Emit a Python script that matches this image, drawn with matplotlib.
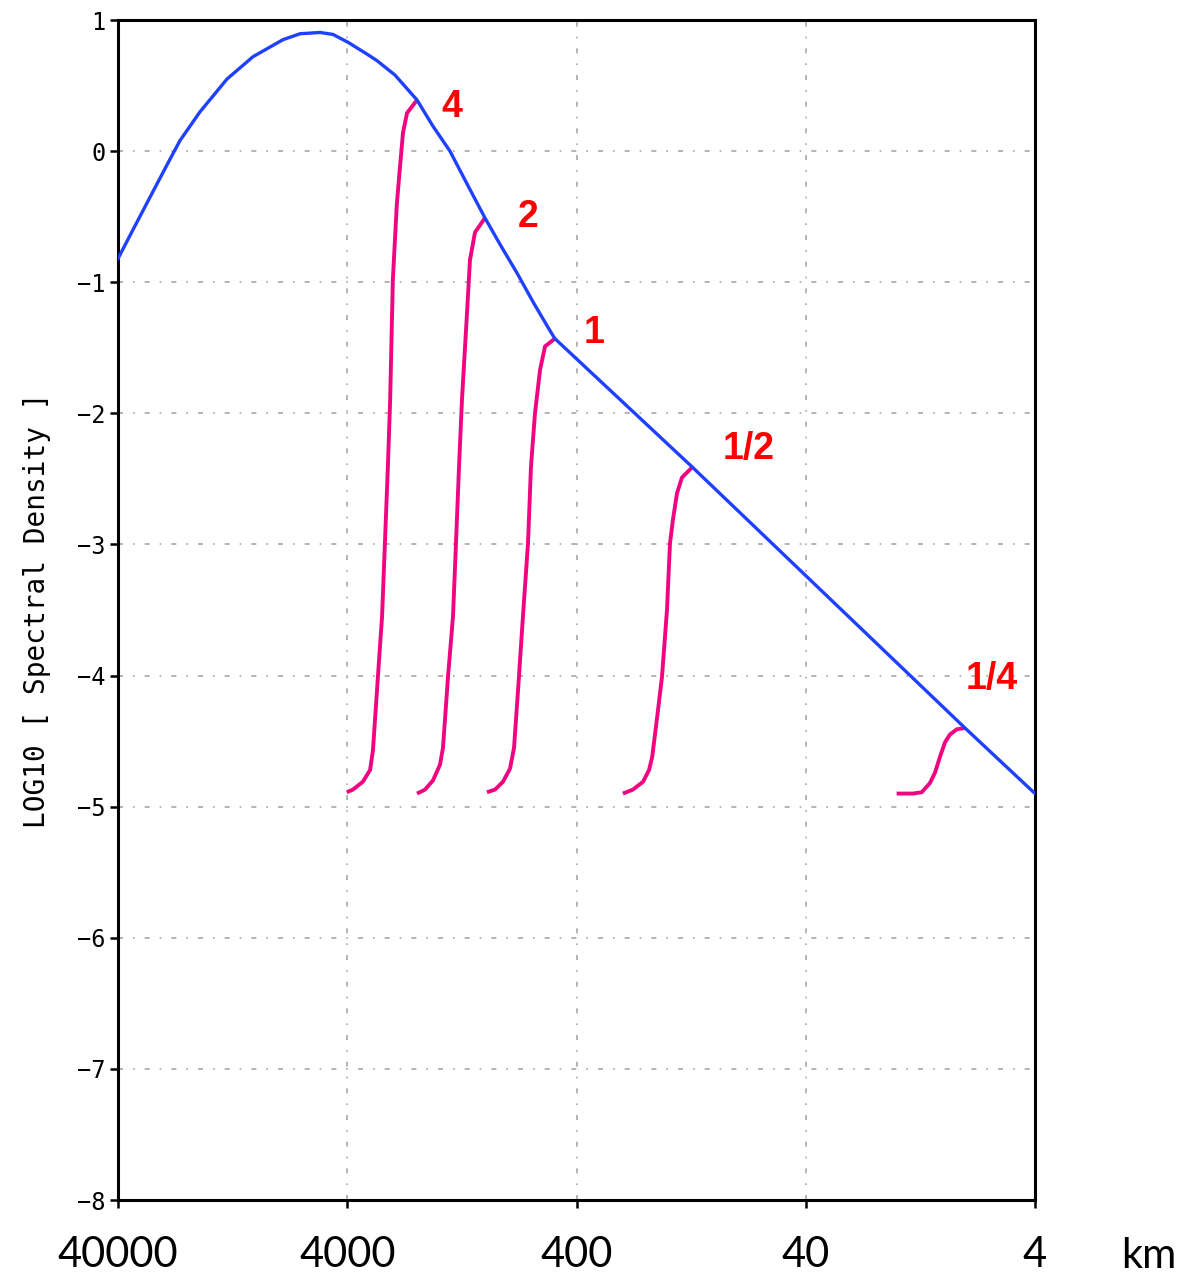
import numpy as np
import matplotlib
matplotlib.use('Agg')
import matplotlib.pyplot as plt
from matplotlib.ticker import FixedLocator, NullFormatter, MultipleLocator

# full spectrum: wavelength (km) vs LOG10 spectral density
total_km = [40000, 34420, 27040, 23700, 21470, 17550, 13380, 10310, 7627, 6430, 5260,
            4617, 3970, 3281, 2967, 2476, 1985, 1691, 1426, 1201, 1003, 863, 727, 619,
            522, 497, 125, 8.08, 4]
total_sd = [-0.82, -0.60, -0.25, -0.06, 0.08, 0.30, 0.55, 0.72, 0.85, 0.895, 0.905,
            0.89, 0.83, 0.74, 0.69, 0.58, 0.39, 0.19, 0.0, -0.25, -0.51, -0.71, -0.93, -1.15,
            -1.37, -1.43, -2.41, -4.40, -4.90]

# truncated spectra (magenta)
f4_km = [4020, 3780, 3420, 3180, 3090, 2940, 2820, 2740, 2660, 2600, 2530, 2430, 2355, 2285, 2195, 1985]
f4_sd = [-4.89, -4.87, -4.81, -4.72, -4.57, -4.01, -3.55, -2.99, -2.41, -1.90, -0.98, -0.40, -0.12, 0.14, 0.29, 0.39]

f2_km = [1985, 1832, 1691, 1576, 1529, 1454, 1383, 1342, 1302, 1264, 1201, 1166, 1109, 1003]
f2_sd = [-4.90, -4.87, -4.80, -4.68, -4.55, -4.01, -3.55, -2.99, -2.41, -1.90, -1.23, -0.83, -0.62, -0.51]

f1_km = [983, 907, 837, 780, 749, 713, 685, 651, 632, 607, 577, 549, 497]
f1_sd = [-4.89, -4.87, -4.81, -4.71, -4.55, -4.01, -3.55, -2.99, -2.41, -2.00, -1.67, -1.49, -1.43]

fh_km = [251, 227, 205, 193, 187, 178, 169.5, 161.2, 156.4, 151.8, 145.8, 138.7, 125]
fh_sd = [-4.90, -4.87, -4.81, -4.72, -4.62, -4.32, -4.01, -3.50, -2.99, -2.81, -2.61, -2.49, -2.41]

fq_km = [16.05, 13.62, 12.48, 11.49, 10.92, 10.39, 9.88, 9.40, 8.78, 8.08]
fq_sd = [-4.90, -4.90, -4.89, -4.82, -4.74, -4.62, -4.51, -4.45, -4.41, -4.40]

curve_labels = ['4', '2', '1', '1/2', '1/4']
label_km = [1397, 651, 335, 70.7, 6.16]
label_sd = [0.34, -0.50, -1.39, -2.27, -4.03]

xtick_vals = [40000, 4000, 400, 40, 4]
xtick_text = ['40000', '4000', '400', '40', '4']

fig = plt.figure(figsize=(11.84, 12.76), dpi=100)
ax = fig.add_axes([118/1184, 1 - 1200/1276, 917/1184, 1180/1276])

magenta = '#f0047f'
for xs, ys in [(f4_km, f4_sd), (f2_km, f2_sd), (f1_km, f1_sd), (fh_km, fh_sd), (fq_km, fq_sd)]:
    ax.plot(xs, ys, color=magenta, lw=2.8, solid_capstyle='butt', zorder=3)
ax.plot(total_km, total_sd, color='#2040ff', lw=2.4, zorder=4)

for t, x, y in zip(curve_labels, label_km, label_sd):
    ax.text(x, y, t, color='#ff0000', fontsize=27, fontweight='bold',
            family='Liberation Sans', ha='center', va='center', zorder=5)

ax.set_xscale('log')
ax.set_xlim(40000, 4)
ax.set_ylim(-8, 1)

ax.set_xticks(xtick_vals)
ax.set_xticklabels(xtick_text, family='Lato', fontsize=30)
ax.xaxis.set_minor_locator(FixedLocator(40000 * 10 ** (-np.arange(0, 4.001, 0.05))))
ax.xaxis.set_minor_formatter(NullFormatter())

ax.set_yticks(range(-8, 2))
ax.set_yticklabels([str(v).replace('-', '\u2212') for v in range(-8, 2)],
                   family='DejaVu Sans Mono', fontsize=17)
ax.yaxis.set_minor_locator(MultipleLocator(1 / 15))

ax.tick_params(which='major', direction='out', length=6, width=1.8, color='black')
ax.tick_params(axis='x', which='major', pad=20)
ax.tick_params(axis='y', which='major', pad=3)
ax.tick_params(which='minor', direction='in', length=3, width=1.2,
               top=True, right=True, color='white')

for s in ax.spines.values():
    s.set_linewidth(2.2)
    s.set_color('black')

ax.grid(which='major', color='#a8a8a8', linestyle=(0, (3, 6, 1, 6)), lw=1.2)
ax.set_axisbelow(True)

ax.text(-0.088, 0.5, 'LOG10 [ Spectral Density ]', transform=ax.transAxes,
        rotation=90, ha='center', va='center', family='DejaVu Sans Mono', fontsize=20)

fig.text(1149/1184, 0.006, 'km', family='Lato', fontsize=30, ha='center', va='baseline')

fig.savefig('out.png', dpi=100, facecolor='white')
